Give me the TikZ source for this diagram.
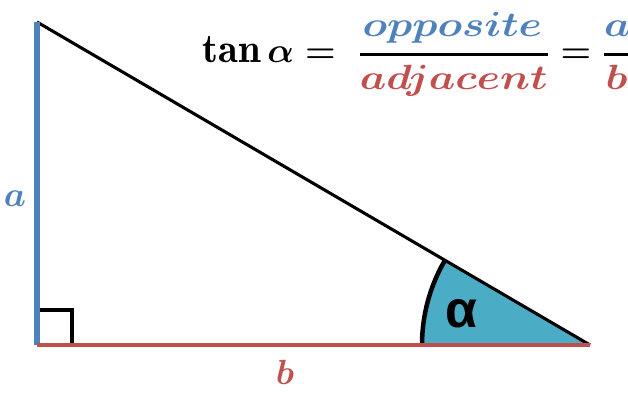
\documentclass[tikz,border=0pt]{standalone}
\usepackage{amsmath}
\usepackage{graphicx}
\usepackage{fontspec}
\newfontfamily\greekfont{Liberation Sans}
\definecolor{sideblue}{HTML}{4F81BD}
\definecolor{sidered}{HTML}{C0504D}
\definecolor{angleteal}{HTML}{4BACC6}
\newcommand{\widen}[1]{\scalebox{1.2}[1]{$#1$}}
\newcommand{\ratio}[2]{\genfrac{}{}{1.8pt}{0}{#1}{#2}}

\begin{document}
\begin{tikzpicture}[x=0.025cm,y=-0.025cm]
\tikzset{opposite/.style={draw=sideblue,line width=3.8pt}}
\tikzset{adjacent/.style={draw=sidered,line width=3.4pt}}
\tikzset{hypotenuse/.style={draw=black,line width=2.2pt}}
\tikzset{rightangle/.style={draw=black,line width=2.4pt}}
\tikzset{anglefill/.style={fill=angleteal}}
\tikzset{anglearc/.style={draw=black,line width=3.2pt}}
\tikzset{sidelabel/.style={font=\fontsize{32}{36}\selectfont\boldmath,inner sep=0pt}}

\useasboundingbox (0,0) rectangle (628,405);

\coordinate (A) at (37,22);
\coordinate (C) at (37,345);
\coordinate (B) at (590,345);

\path[anglefill] (B) -- ++(180:168) arc (180:210.3:168) -- cycle;
\path[anglearc] (B) ++(180:168) arc (180:210.3:168);

\path[rightangle] (C) ++(0,-35) -- ++(35,0) -- ++(0,35);

\path[hypotenuse] (A) -- (B);
\path[opposite] (A) -- (C);
\path[adjacent] (C) -- (B);

\node[sidelabel,text=sideblue] (alabel) at (15,199) {$a$};
\node[sidelabel,text=sidered] (blabel) at (285,372) {$b$};
\node[font=\fontsize{37}{42}\selectfont\greekfont\bfseries,inner sep=0pt] (alphalabel) at (461,314) {α};

\node[anchor=base west,inner sep=0pt,font=\fontsize{29}{34}\selectfont\boldmath] (formula) at (202,63)
  {$\tan\alpha = \;\ratio{\widen{\color{sideblue}opposite}}{\widen{\color{sidered}adjacent}} = \ratio{\widen{\color{sideblue}a}}{\widen{\color{sidered}b}}$};
\end{tikzpicture}
\end{document}
